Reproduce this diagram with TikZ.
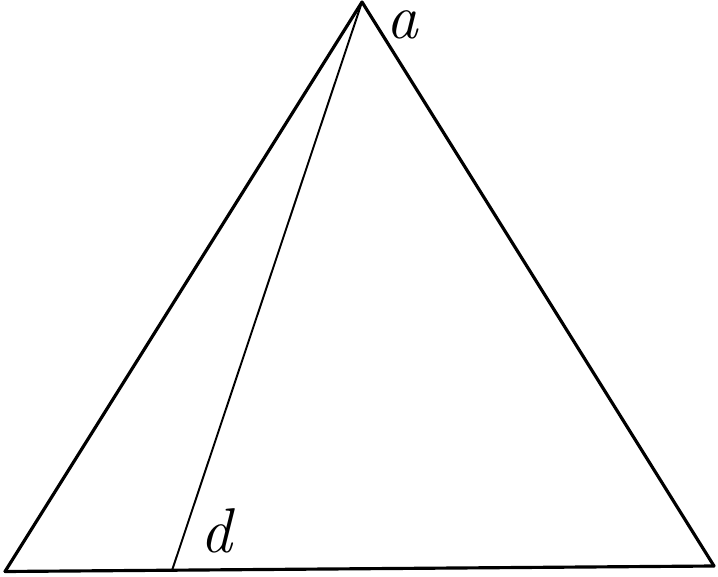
\documentclass[tikz,border=0pt]{standalone}
\usepackage{amsmath}
\usepackage{tikz}
\tikzset{edge/.style={line width=1.8pt, line cap=round}, thinedge/.style={line width=1.1pt}, lbl/.style={inner sep=0pt, font=\fontsize{36}{40}\selectfont\itshape}}

\begin{document}
\begin{tikzpicture}
\useasboundingbox (0,0) rectangle (14.36,11.52);
\coordinate (A) at (7.24,11.48);
\coordinate (L) at (0.10,0.09);
\coordinate (R) at (14.28,0.20);
\coordinate (D) at (3.44,0.11);
\node[lbl] (la) at (8.04,11.02) {a};
\node[lbl] (ld) at (4.32,0.90) {d};
\draw[edge] (L) -- (A);
\draw[edge] (A) -- (R);
\draw[edge] (L) -- (R);
\draw[thinedge] (A) -- (D);
\end{tikzpicture}
\end{document}
